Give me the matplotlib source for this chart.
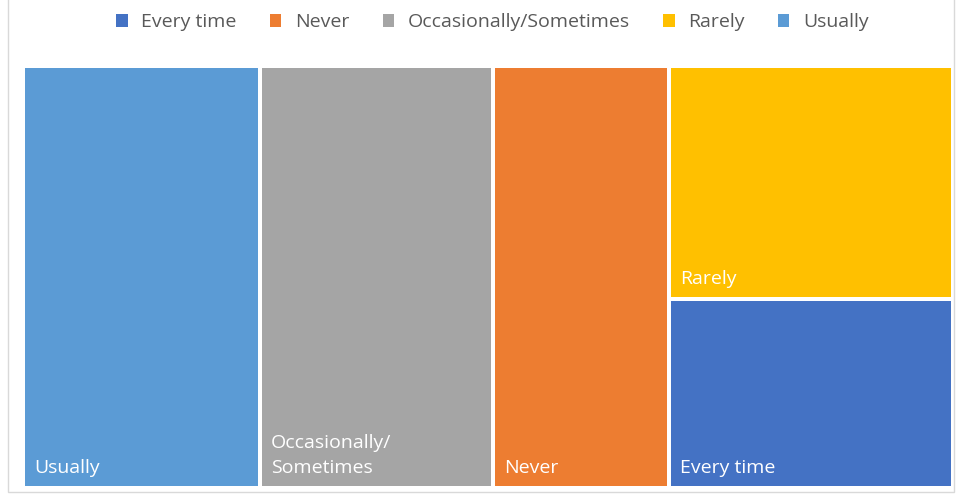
import matplotlib
matplotlib.use("Agg")
import matplotlib.pyplot as plt
from matplotlib.patches import Rectangle

plt.rcParams['font.family'] = ['Open Sans', 'DejaVu Sans']

categories = ["Usually", "Occasionally/Sometimes", "Never", "Rarely", "Every time"]
values = [25.4, 25.1, 19.1, 16.8, 13.6]
labels = ["Usually", "Occasionally/\nSometimes", "Never", "Rarely", "Every time"]
colors = {"Every time": "#4472C4", "Never": "#ED7D31", "Occasionally/Sometimes": "#A5A5A5",
          "Rarely": "#FFC000", "Usually": "#5B9BD5"}
legend_order = ["Every time", "Never", "Occasionally/Sometimes", "Rarely", "Usually"]
# layout groups (columns) in order of drawing
groups = [[0], [1], [2], [3, 4]]

W, H = 958, 495
fig = plt.figure(figsize=(W / 100, H / 100), dpi=100)
ax = fig.add_axes([0, 0, 1, 1])
ax.set_xlim(0, W)
ax.set_ylim(H, 0)
ax.axis('off')

# light outer frame
ax.add_patch(Rectangle((8, -2), 946, 494, fill=False, edgecolor="#D9D9D9", lw=1.0))

x0, x1, y0, y1 = 25, 951, 68, 486
gap = 4
total = sum(values)
cx = x0
for g in groups:
    gsum = sum(values[i] for i in g)
    gw = (x1 - x0) * gsum / total
    cy = y0
    for i in g:
        h = (y1 - y0) * values[i] / gsum
        rx, ry = cx + gap / 2, cy + gap / 2
        rw, rh = gw - gap, h - gap
        if cx == x0:
            rx, rw = cx, gw - gap / 2
        if cx + gw >= x1 - 0.5:
            rw = x1 - rx
        if cy == y0:
            ry, rh = cy, h - gap / 2
        if cy + h >= y1 - 0.5:
            rh = y1 - ry
        ax.add_patch(Rectangle((rx, ry), rw, rh, facecolor=colors[categories[i]], edgecolor='none'))
        ax.text(rx + 9, ry + rh - 9, labels[i], color="white", fontsize=14,
                ha='left', va='bottom', linespacing=1.5)
        cy += h
    cx += gw

# legend
handles = [Rectangle((0, 0), 1, 1, facecolor=colors[c]) for c in legend_order]
fig.legend(handles, legend_order, loc='center', bbox_to_anchor=(0.514, 0.955), ncol=5,
           frameon=False, fontsize=14, handlelength=0.6, handleheight=0.6,
           handletextpad=0.7, columnspacing=1.7, labelcolor="#595959")

fig.savefig("out.png", dpi=100, facecolor="white")
